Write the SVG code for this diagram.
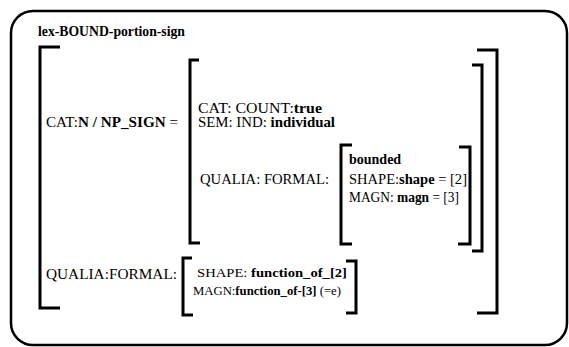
<svg xmlns="http://www.w3.org/2000/svg" width="569" height="347" viewBox="0 0 569 347">
<style>
.t{font-family:"Liberation Serif","Times New Roman",serif;font-size:14px;fill:#000}
.s{font-size:13px}
.b{font-weight:bold}
.br{fill:none;stroke:#000;stroke-width:3;stroke-linejoin:miter}
.box{fill:#fff;stroke:#000;stroke-width:2.5}
</style>
<rect width="569" height="347" fill="#fff"/>
<g id="frame">
<rect class="box" x="11" y="11" width="556" height="334" rx="22"/>
<text class="t b" x="38" y="36" textLength="147" lengthAdjust="spacingAndGlyphs">lex-BOUND-portion-sign</text>
</g>
<g id="outer-avm">
<path class="br" d="M60,47 H40 V308 H60"/>
<path class="br" d="M477,50 H497 V313 H477"/>
<text class="t" x="46" y="127" textLength="132" lengthAdjust="spacingAndGlyphs">CAT:<tspan class="b">N / NP_SIGN</tspan> =</text>
</g>
<g id="sign-avm">
<path class="br" d="M199,60 H190 V243 H200"/>
<path class="br" d="M472,65 H482 V251 H472"/>
<text class="t" x="198" y="113" textLength="124" lengthAdjust="spacingAndGlyphs">CAT:  COUNT:<tspan class="b">true</tspan></text>
<text class="t" x="198" y="127" textLength="137" lengthAdjust="spacingAndGlyphs">SEM: IND: <tspan class="b">individual</tspan></text>
<text class="t" x="200" y="184" textLength="129" lengthAdjust="spacingAndGlyphs">QUALIA: FORMAL:</text>
</g>
<g id="formal-avm">
<path class="br" d="M352,145 H341 V244 H352"/>
<path class="br" d="M459,147 H470 V244 H458"/>
<text class="t b" x="349" y="164">bounded</text>
<text class="t" x="349" y="184" textLength="118" lengthAdjust="spacingAndGlyphs">SHAPE:<tspan class="b">shape</tspan> = [2]</text>
<text class="t" x="349" y="202" textLength="110" lengthAdjust="spacingAndGlyphs">MAGN: <tspan class="b">magn</tspan> = [3]</text>
</g>
<g id="qualia-avm">
<text class="t" x="46" y="279" textLength="131" lengthAdjust="spacingAndGlyphs">QUALIA:FORMAL:</text>
<path class="br" d="M192,258 H183 V315 H193"/>
<path class="br" d="M346,261 H356 V313 H346"/>
<text class="t s" x="197" y="277" textLength="150" lengthAdjust="spacingAndGlyphs">SHAPE: <tspan class="b">function_of_[2]</tspan></text>
<text class="t s" x="193" y="295" textLength="148" lengthAdjust="spacingAndGlyphs">MAGN:<tspan class="b">function_of-[3]</tspan> (=e)</text>
</g>
<g id="connectors"/>
</svg>
